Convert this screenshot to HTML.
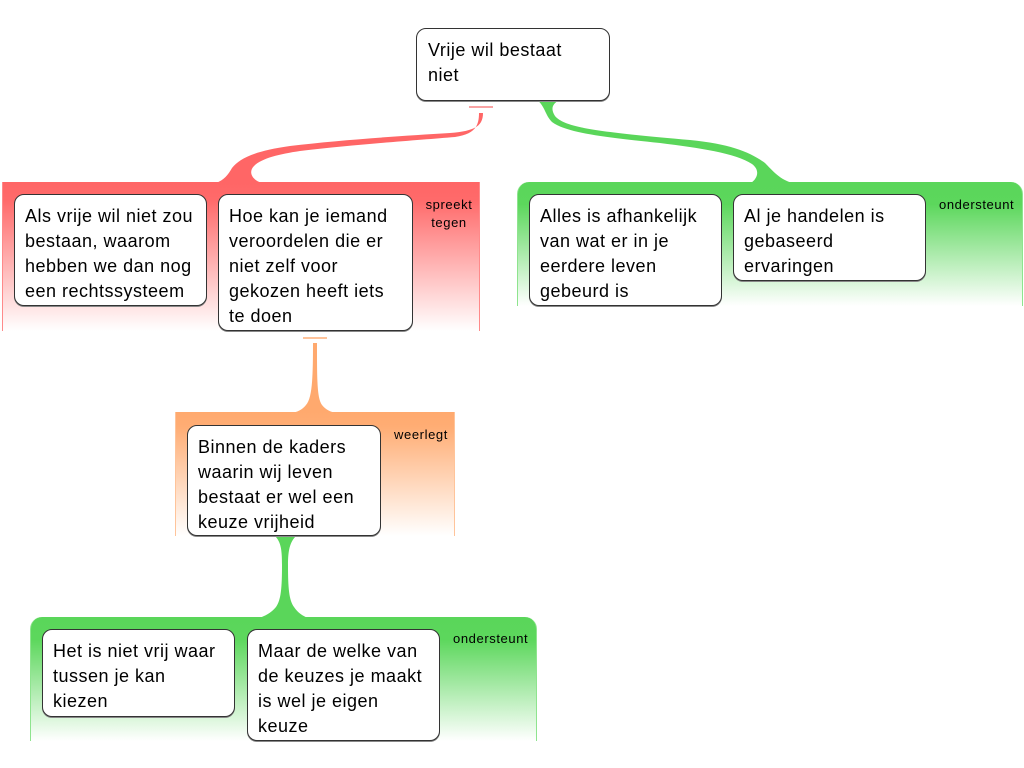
<!DOCTYPE html>
<html>
<head>
<meta charset="utf-8">
<style>
  html,body{margin:0;padding:0;background:#fff;}
  body{width:1024px;height:768px;position:relative;overflow:hidden;font-family:"Liberation Sans",Arial,sans-serif;}
  .grp{position:absolute;box-sizing:border-box;}
  .red{left:2px;top:182px;width:478px;height:149px;background:linear-gradient(#ff6666 0%,#ff6a6a 12%,#ffffff 100%);border-left:1px solid #ff8a8a;border-right:1px solid #ff8a8a;}
  .gr1{left:517px;top:182px;width:506px;height:124px;background:linear-gradient(#5ad65a 0%,#5cd75c 18%,#ffffff 100%);border-left:1px solid #8ee48e;border-right:1px solid #8ee48e;border-radius:12px 12px 0 0;}
  .org{left:175px;top:412px;width:280px;height:124px;background:linear-gradient(#ffa96e 0%,#ffad74 12%,#ffffff 100%);border-left:1px solid #ffc49a;border-right:1px solid #ffc49a;}
  .gr2{left:30px;top:617px;width:507px;height:124px;background:linear-gradient(#5ad65a 0%,#5cd75c 18%,#ffffff 100%);border-left:1px solid #8ee48e;border-right:1px solid #8ee48e;border-radius:12px 12px 0 0;}
  .box{position:absolute;box-sizing:border-box;background:#fff;border:1px solid #333;border-radius:10px;box-shadow:0 1px 0 #888;padding:9px 0 0 10px;font-size:18px;letter-spacing:0.5px;line-height:25px;color:#000;white-space:nowrap;}
  .lbl{position:absolute;font-size:13px;letter-spacing:0.6px;line-height:18px;color:#000;white-space:nowrap;}
  svg{position:absolute;left:0;top:0;}
</style>
</head>
<body>
<svg width="1024" height="768" viewBox="0 0 1024 768">
  <rect x="469" y="106" width="24" height="2" fill="#f9a3a3"/>
  <path d="M483,113 C483,126 475,131 450,133 C400,136 340,140 290,146 C255,151 240,158 232,168 C228,175 224,180 216,183 L262,183 C252,180 248,172 254,166 C262,158 280,154 300,151 C360,144 420,140 455,137 C475,134 479,126 479,113 Z" fill="#ff6666"/>
  <path d="M537,100 L559,100 C553,104 550,108 555,116 C565,128 600,132 690,140 C730,144 750,152 765,163 C772,170 780,180 793,183 L751,183 C758,178 760,170 752,164 C735,153 700,148 660,143 C600,137 565,132 552,122 C545,115 545,106 537,100 Z" fill="#5ad65a"/>
  <rect x="303" y="337" width="24" height="2" fill="#ffc39a"/>
  <path d="M313,343 L317,343 C317,380 317,398 322,405 C326,410 331,412 336,413 L292,413 C297,412 302,410 306,405 C312,398 313,380 313,343 Z" fill="#ffa96e"/>
  <path d="M275,536 L296,536 C290,542 288,550 288,565 C288,588 289,600 294,607 C298,613 303,616 308,618 L259,618 C265,616 271,613 276,607 C281,600 282,588 282,565 C282,550 281,542 275,536 Z" fill="#5ad65a"/>
</svg>

<div class="grp red"></div>
<div class="grp gr1"></div>
<div class="grp org"></div>
<div class="grp gr2"></div>

<div class="box" style="left:416px;top:28px;width:194px;height:73px;padding-left:11px;">Vrije wil bestaat<br>niet</div>

<div class="box" style="left:14px;top:194px;width:193px;height:112px;">Als vrije wil niet zou<br>bestaan, waarom<br>hebben we dan nog<br>een rechtssysteem</div>
<div class="box" style="left:218px;top:194px;width:195px;height:137px;">Hoe kan je iemand<br>veroordelen die er<br>niet zelf voor<br>gekozen heeft iets<br>te doen</div>
<div class="lbl" style="left:420px;top:196px;width:58px;text-align:center;">spreekt<br>tegen</div>

<div class="box" style="left:529px;top:194px;width:193px;height:112px;">Alles is afhankelijk<br>van wat er in je<br>eerdere leven<br>gebeurd is</div>
<div class="box" style="left:733px;top:194px;width:193px;height:87px;">Al je handelen is<br>gebaseerd<br>ervaringen</div>
<div class="lbl" style="left:939px;top:196px;">ondersteunt</div>

<div class="box" style="left:187px;top:425px;width:194px;height:111px;">Binnen de kaders<br>waarin wij leven<br>bestaat er wel een<br>keuze vrijheid</div>
<div class="lbl" style="left:394px;top:426px;">weerlegt</div>

<div class="box" style="left:42px;top:629px;width:193px;height:88px;">Het is niet vrij waar<br>tussen je kan<br>kiezen</div>
<div class="box" style="left:247px;top:629px;width:193px;height:112px;">Maar de welke van<br>de keuzes je maakt<br>is wel je eigen<br>keuze</div>
<div class="lbl" style="left:453px;top:630px;">ondersteunt</div>
</body>
</html>
